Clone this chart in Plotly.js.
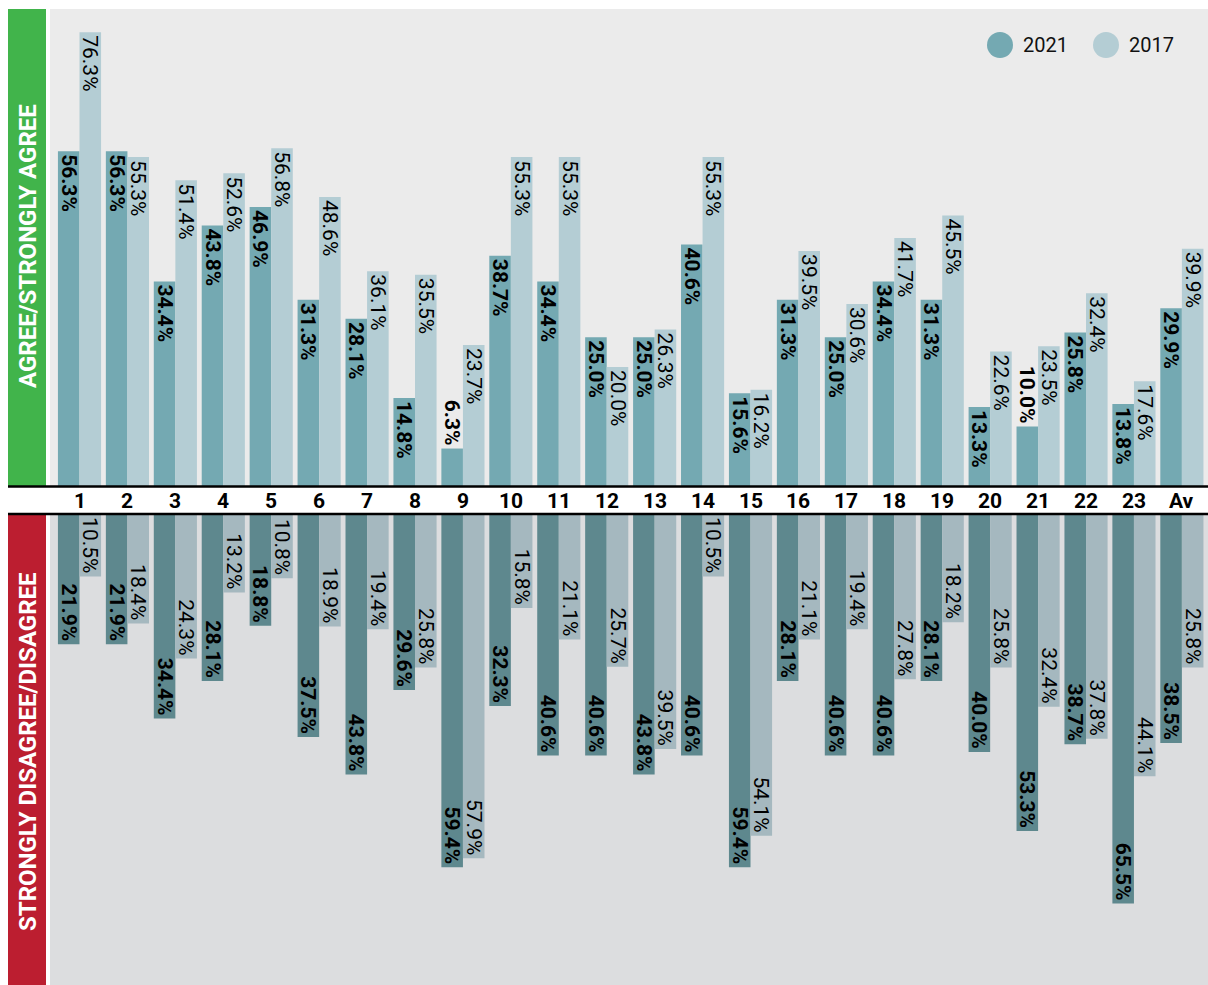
<!DOCTYPE html>
<html><head><meta charset="utf-8">
<script src="https://cdn.plot.ly/plotly-3.0.1.min.js"></script>
<style>html,body{margin:0;padding:0;background:#fff}#chart{width:1208px;height:985px}</style>
</head><body><div id="chart"></div>
<script>
const categories = ['1','2','3','4','5','6','7','8','9','10','11','12','13','14','15','16','17','18','19','20','21','22','23','Av'];
const agree2021 = [56.3,56.3,34.4,43.8,46.9,31.3,28.1,14.8,6.3,38.7,34.4,25.0,25.0,40.6,15.6,31.3,25.0,34.4,31.3,13.3,10.0,25.8,13.8,29.9];
const agree2017 = [76.3,55.3,51.4,52.6,56.8,48.6,36.1,35.5,23.7,55.3,55.3,20.0,26.3,55.3,16.2,39.5,30.6,41.7,45.5,22.6,23.5,32.4,17.6,39.9];
const disagree2021 = [21.9,21.9,34.4,28.1,18.8,37.5,43.8,29.6,59.4,32.3,40.6,40.6,43.8,40.6,59.4,28.1,40.6,40.6,28.1,40.0,53.3,38.7,65.5,38.5];
const disagree2017 = [10.5,18.4,24.3,13.2,10.8,18.9,19.4,25.8,57.9,15.8,21.1,25.7,39.5,10.5,54.1,21.1,19.4,27.8,18.2,25.8,32.4,37.8,44.1,25.8];
const seriesNames = ['2021','2017'];
const panelTitles = ['AGREE/STRONGLY AGREE','STRONGLY DISAGREE/DISAGREE'];

const W = 1208, H = 985;
const X = px => px / W;
const Y = py => (H - py) / H;
const FONT = 'Roboto, "Noto Sans", sans-serif';
const colTop = ['#74a9b2', '#b4cdd4'];
const colBot = ['#5e888e', '#a5b8bf'];
const fmt = v => v.toFixed(1) + '%';
const FIT_MIN = 11; // bars shorter than this (in %) get their label outside

function barTrace(vals, color, xa, ya, bold, name) {
  const f = {family: FONT, size: 21, color: '#000', weight: bold ? 'bold' : 'normal'};
  return {
    type: 'bar', x: categories, y: vals, name: name,
    xaxis: xa, yaxis: ya,
    marker: {color: color, line: {width: 0}},
    text: vals.map(fmt),
    textposition: vals.map(v => v < FIT_MIN && ya === 'y' ? 'outside' : 'inside'),
    insidetextanchor: 'end',
    textangle: 90, constraintext: 'none', cliponaxis: false,
    textfont: f, insidetextfont: f, outsidetextfont: f,
    hoverinfo: 'skip', showlegend: false
  };
}

const data = [
  barTrace(agree2021, colTop[0], 'x', 'y', true, seriesNames[0]),
  barTrace(agree2017, colTop[1], 'x', 'y', false, seriesNames[1]),
  barTrace(disagree2021, colBot[0], 'x2', 'y2', true, seriesNames[0]),
  barTrace(disagree2017, colBot[1], 'x2', 'y2', false, seriesNames[1])
];

const xr = [-0.6155, 23.545];
const xBase = {type: 'category', categoryorder: 'array', categoryarray: categories, domain: [X(50), 1], range: xr, showticklabels: false, showgrid: false, zeroline: false, showline: false, ticks: '', fixedrange: true};
const layout = {
  width: W, height: H,
  margin: {l: 0, r: 0, t: 0, b: 0},
  paper_bgcolor: '#ffffff', plot_bgcolor: 'rgba(0,0,0,0)',
  barmode: 'group', bargap: 0.1, bargroupgap: 0,
  showlegend: false,
  xaxis: Object.assign({anchor: 'y'}, xBase),
  xaxis2: Object.assign({anchor: 'y2'}, xBase),
  yaxis: {domain: [Y(486), Y(9)], range: [0, 80.2], visible: false, fixedrange: true},
  yaxis2: {domain: [0, Y(514)], range: [79.2, 0], visible: false, fixedrange: true},
  shapes: [
    {type: 'rect', xref: 'paper', yref: 'paper', x0: X(50), x1: 1, y0: Y(486), y1: Y(9), fillcolor: '#ebebeb', line: {width: 0}, layer: 'below'},
    {type: 'rect', xref: 'paper', yref: 'paper', x0: X(50), x1: 1, y0: 0, y1: Y(514), fillcolor: '#dcdddf', line: {width: 0}, layer: 'below'},
    {type: 'rect', xref: 'paper', yref: 'paper', x0: X(8), x1: X(46), y0: Y(486), y1: Y(9), fillcolor: '#41b44b', line: {width: 0}, layer: 'below'},
    {type: 'rect', xref: 'paper', yref: 'paper', x0: X(8), x1: X(46), y0: 0, y1: Y(514), fillcolor: '#bc1e30', line: {width: 0}, layer: 'below'},
    {type: 'line', xref: 'paper', yref: 'paper', x0: X(8), x1: 1, y0: Y(486.5), y1: Y(486.5), line: {color: '#000', width: 2.5}},
    {type: 'line', xref: 'paper', yref: 'paper', x0: X(8), x1: 1, y0: Y(514), y1: Y(514), line: {color: '#000', width: 2.5}},
    {type: 'circle', xref: 'paper', yref: 'paper', xsizemode: 'pixel', ysizemode: 'pixel', xanchor: X(1000), yanchor: Y(45), x0: -13, x1: 13, y0: -13, y1: 13, fillcolor: colTop[0], line: {width: 0}},
    {type: 'circle', xref: 'paper', yref: 'paper', xsizemode: 'pixel', ysizemode: 'pixel', xanchor: X(1106), yanchor: Y(45), x0: -13, x1: 13, y0: -13, y1: 13, fillcolor: colTop[1], line: {width: 0}}
  ],
  annotations: [
    ...categories.map((c, i) => ({xref: 'x', yref: 'paper', x: i, y: Y(500.5), text: c, showarrow: false, xanchor: 'center', yanchor: 'middle', font: {family: FONT, size: 21, color: '#000', weight: 'bold'}})),
    {xref: 'paper', yref: 'paper', x: X(1021), y: Y(45), text: seriesNames[0], showarrow: false, xanchor: 'left', yanchor: 'middle', font: {family: FONT, size: 20, color: '#111'}},
    {xref: 'paper', yref: 'paper', x: X(1127), y: Y(45), text: seriesNames[1], showarrow: false, xanchor: 'left', yanchor: 'middle', font: {family: FONT, size: 20, color: '#111'}},
    {xref: 'paper', yref: 'paper', x: X(28), y: Y(246), text: panelTitles[0], textangle: -90, showarrow: false, xanchor: 'center', yanchor: 'middle', font: {family: FONT, size: 24, color: '#fff', weight: 'bold'}},
    {xref: 'paper', yref: 'paper', x: X(28), y: Y(752), text: panelTitles[1], textangle: -90, showarrow: false, xanchor: 'center', yanchor: 'middle', font: {family: FONT, size: 24, color: '#fff', weight: 'bold'}}
  ]
};

Plotly.newPlot('chart', data, layout, {displayModeBar: false, staticPlot: true});
</script>
</body></html>
